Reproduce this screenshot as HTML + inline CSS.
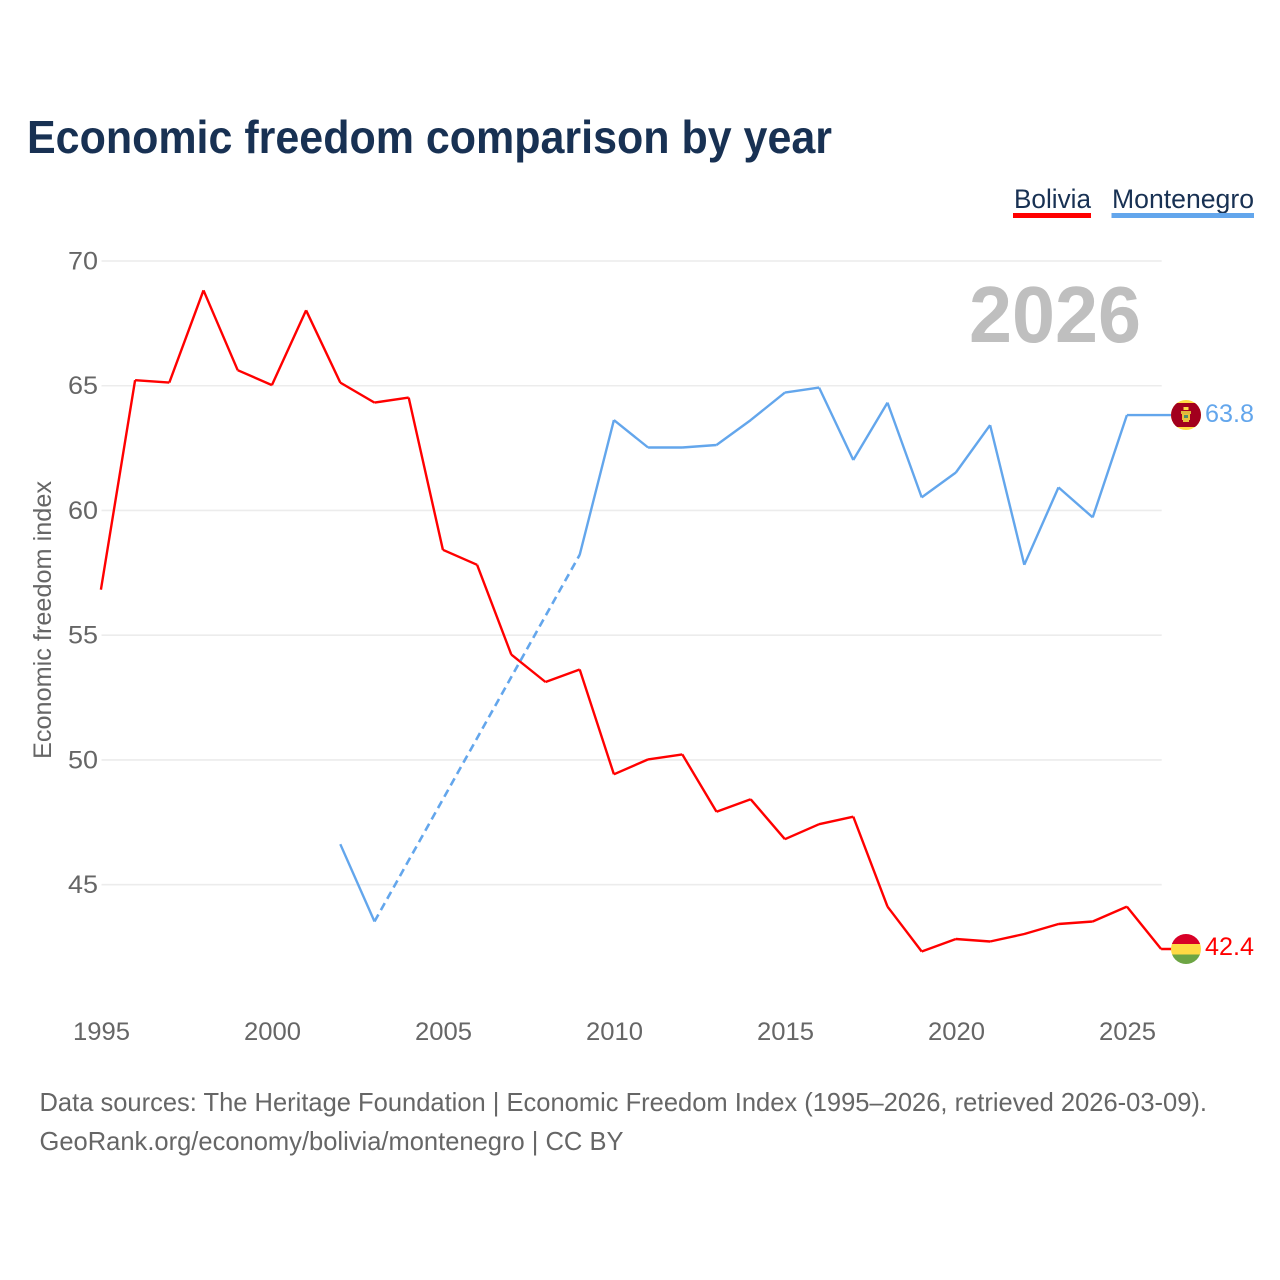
<!DOCTYPE html>
<html lang="en">
<head>
<meta charset="utf-8">
<title>Economic freedom comparison by year</title>
<style>
html,body{margin:0;padding:0;background:#fff;width:1280px;height:1280px;overflow:hidden}
svg{display:block}
text{font-family:"Liberation Sans",sans-serif}
</style>
</head>
<body>
<svg id="chart" xmlns="http://www.w3.org/2000/svg" width="1280" height="1280" viewBox="0 0 1280 1280">
  <defs>
    <clipPath id="clip-me"><circle cx="1186" cy="415" r="15"/></clipPath>
    <clipPath id="clip-bo"><circle cx="1186" cy="949" r="15"/></clipPath>
  </defs>
  <text x="27" y="153" font-size="46" font-weight="700" fill="#183153" textLength="805" lengthAdjust="spacingAndGlyphs">Economic freedom comparison by year</text>

  <g>
    <text x="1014" y="208" font-size="27" fill="#183153" textLength="77" lengthAdjust="spacingAndGlyphs">Bolivia</text>
    <rect x="1013" y="213" width="78" height="5" fill="#ff0000"/>
  </g>
  <g>
    <text x="1112" y="208" font-size="27" fill="#183153" textLength="142" lengthAdjust="spacingAndGlyphs">Montenegro</text>
    <rect x="1111.5" y="213" width="142.5" height="5" fill="#63a6ec"/>
  </g>

  <g id="grid"></g>
  <g id="yticks"></g>
  <g id="xticks"></g>

  <text transform="translate(51,620) rotate(-90)" text-anchor="middle" font-size="25" fill="#666666" textLength="278" lengthAdjust="spacingAndGlyphs">Economic freedom index</text>

  <text x="969" y="342" font-size="80" font-weight="700" fill="#bfbfbf" textLength="172" lengthAdjust="spacingAndGlyphs">2026</text>

  <g id="series" transform="translate(-0.6,-0.6)"></g>

  <g clip-path="url(#clip-me)">
    <rect x="1171" y="400" width="30" height="30" fill="#ffda44"/>
    <rect x="1171" y="403" width="30" height="24" fill="#a2001d"/>
    <rect x="1183.5" y="407" width="5" height="3" fill="#ffda44"/>
    <rect x="1181" y="411" width="10" height="3" fill="#e0b83a"/>
    <rect x="1182" y="414" width="8" height="6" fill="#e8c23c"/>
    <rect x="1184" y="415" width="4" height="3" fill="#4f8f6a"/>
    <rect x="1183" y="420" width="6" height="2" fill="#e8c23c"/>
  </g>
  <g clip-path="url(#clip-bo)">
    <rect x="1171" y="934" width="30" height="10" fill="#d80027"/>
    <rect x="1171" y="944" width="30" height="10.5" fill="#ffda44"/>
    <rect x="1171" y="954.5" width="30" height="10" fill="#6da544"/>
  </g>

  <text id="end-me" x="1254" y="422" text-anchor="end" font-size="25" fill="#63a6ec" textLength="49" lengthAdjust="spacingAndGlyphs"></text>
  <text id="end-bo" x="1254" y="955" text-anchor="end" font-size="25" fill="#ff0000" textLength="49" lengthAdjust="spacingAndGlyphs"></text>

  <text x="39.5" y="1111" font-size="26" fill="#666666" textLength="1167.5" lengthAdjust="spacingAndGlyphs">Data sources: The Heritage Foundation | Economic Freedom Index (1995–2026, retrieved 2026-03-09).</text>
  <text x="39.5" y="1150" font-size="26" fill="#666666" textLength="584" lengthAdjust="spacingAndGlyphs">GeoRank.org/economy/bolivia/montenegro | CC BY</text>
</svg>
<script>
const years = [1995,1996,1997,1998,1999,2000,2001,2002,2003,2004,2005,2006,2007,2008,2009,2010,2011,2012,2013,2014,2015,2016,2017,2018,2019,2020,2021,2022,2023,2024,2025,2026];
const bolivia = [56.8,65.2,65.1,68.8,65.6,65.0,68.0,65.1,64.3,64.5,58.4,57.8,54.2,53.1,53.6,49.4,50.0,50.2,47.9,48.4,46.8,47.4,47.7,44.1,42.3,42.8,42.7,43.0,43.4,43.5,44.1,42.4];
const montenegro = [null,null,null,null,null,null,null,46.6,43.5,null,null,null,null,null,58.2,63.6,62.5,62.5,62.6,63.6,64.7,64.9,62.0,64.3,60.5,61.5,63.4,57.8,60.9,59.7,63.8,63.8];
const yTickValues = [45,50,55,60,65,70];
const xTickValues = [1995,2000,2005,2010,2015,2020,2025];

const SVGNS = 'http://www.w3.org/2000/svg';
function xScale(year){ return 101.5 + (year - 1995) * (1127.5 - 101.5) / 30; }
function yScale(v){ return 261 + (70 - v) * (884.7 - 261) / 25; }
function make(tag, attrs, parent){
  const el = document.createElementNS(SVGNS, tag);
  for (const k in attrs) el.setAttribute(k, attrs[k]);
  parent.appendChild(el);
  return el;
}

const grid = document.getElementById('grid');
const yticks = document.getElementById('yticks');
yTickValues.forEach(function(v){
  const line = make('line', {x1:101.5, x2:1161.7, y1:yScale(v), y2:yScale(v), stroke:'#ececec', 'stroke-width':1.6}, grid);
  
  
  const t = make('text', {x:98, y:yScale(v)+8.5, 'text-anchor':'end', 'font-size':25, fill:'#666666', textLength:30, lengthAdjust:'spacingAndGlyphs'}, yticks);
  
  
  t.textContent = String(v);
});

const xticks = document.getElementById('xticks');
xTickValues.forEach(function(y){
  const t = make('text', {x:xScale(y), y:1040, 'text-anchor':'middle', 'font-size':25, fill:'#666666', textLength:57, lengthAdjust:'spacingAndGlyphs'}, xticks);
  
  
  t.textContent = String(y);
});

const seriesGroup = document.getElementById('series');
function drawSeries(values, color, name){
  let solid = '';
  let dashed = '';
  let prev = -1;
  values.forEach(function(v, i){
    if (v === null) return;
    const px = xScale(years[i]).toFixed(1) + ' ' + yScale(v).toFixed(1);
    if (prev >= 0) {
      const from = xScale(years[prev]).toFixed(1) + ' ' + yScale(values[prev]).toFixed(1);
      if (i === prev + 1) solid += 'M' + from + 'L' + px;
      else dashed += 'M' + from + 'L' + px;
    }
    prev = i;
  });
  const last = values[values.length - 1];
  solid += 'M' + xScale(years[years.length - 1]).toFixed(1) + ' ' + yScale(last).toFixed(1) + 'H1172';
  const p = make('path', {d:solid, fill:'none', stroke:color, 'stroke-width':2.4, 'stroke-linejoin':'miter'}, seriesGroup);
  
  
  if (dashed) {
    const d = make('path', {d:dashed, fill:'none', stroke:color, 'stroke-width':2.6, 'stroke-dasharray':'8 5'}, seriesGroup);
    
    
  }
}
drawSeries(bolivia, '#ff0000', 'bolivia');
drawSeries(montenegro, '#63a6ec', 'montenegro');

document.getElementById('end-me').textContent = montenegro[montenegro.length - 1].toFixed(1);
document.getElementById('end-bo').textContent = bolivia[bolivia.length - 1].toFixed(1);
</script>
</body>
</html>
